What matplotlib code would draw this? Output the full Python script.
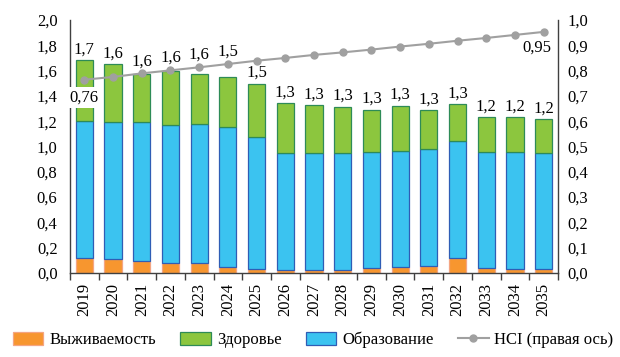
import matplotlib
matplotlib.use("Agg")
import matplotlib.pyplot as plt
from matplotlib.patches import Patch
from matplotlib.lines import Line2D
import numpy as np

years = ["2019", "2020", "2021", "2022", "2023", "2024", "2025", "2026", "2027",
         "2028", "2029", "2030", "2031", "2032", "2033", "2034", "2035"]
survival = [0.12, 0.11, 0.097, 0.081, 0.081, 0.05, 0.03, 0.025, 0.024,
            0.024, 0.04, 0.047, 0.055, 0.121, 0.04, 0.032, 0.032]
education_top = [1.204, 1.196, 1.19, 1.172, 1.178, 1.152, 1.073, 0.951, 0.946,
                 0.951, 0.959, 0.964, 0.98, 1.041, 0.959, 0.954, 0.951]
totals = [1.68, 1.65, 1.576, 1.597, 1.576, 1.552, 1.494, 1.34, 1.325,
          1.315, 1.289, 1.323, 1.286, 1.334, 1.231, 1.231, 1.215]
total_labels = ["1,7", "1,6", "1,6", "1,6", "1,6", "1,5", "1,5", "1,3", "1,3",
                "1,3", "1,3", "1,3", "1,3", "1,3", "1,2", "1,2", "1,2"]
hci = [0.764, 0.775, 0.789, 0.801, 0.813, 0.826, 0.839, 0.850, 0.862,
       0.872, 0.883, 0.895, 0.906, 0.918, 0.929, 0.941, 0.953]

education = [e - s for e, s in zip(education_top, survival)]
health = [t - e for t, e in zip(totals, education_top)]

plt.rcParams['font.family'] = ['Liberation Serif', 'DejaVu Serif']
FS = 12

c_or, c_or_e = "#F7962F", "#F4A582"
c_gr, c_gr_e = "#8CC63E", "#2E8B57"
c_bl, c_bl_e = "#3BC3F0", "#2F5DB5"
c_line = "#A0A0A0"
spine_c = "#404040"

fig = plt.figure(figsize=(6.2, 3.57), dpi=100)
ax = fig.add_axes([70/620, 1-273/357, (558-70)/620, (273-20)/357])
ax2 = ax.twinx()

x = np.arange(len(years))
w = 0.6
lw = 0.9
ax.bar(x, survival, w, color=c_or, edgecolor=c_or_e, linewidth=lw, zorder=2)
ax.bar(x, education, w, bottom=survival, color=c_bl, edgecolor=c_bl_e, linewidth=lw, zorder=2)
ax.bar(x, health, w, bottom=education_top, color=c_gr, edgecolor=c_gr_e, linewidth=lw, zorder=2)

ax.set_xlim(-0.5, len(years) - 0.5)
ax.set_ylim(0, 2.0)
ax2.set_ylim(0, 1.0)

ax.set_yticks(np.arange(0, 2.01, 0.2))
ax.set_yticklabels([f"{v:.1f}".replace(".", ",") for v in np.arange(0, 2.01, 0.2)], fontsize=FS)
ax2.set_yticks(np.arange(0, 1.001, 0.1))
ax2.set_yticklabels([f"{v:.1f}".replace(".", ",") for v in np.arange(0, 1.001, 0.1)], fontsize=FS)
ax.tick_params(axis='y', length=0, pad=9)
ax2.tick_params(axis='y', length=0, pad=7)

ax.set_xticks(x)
ax.set_xticklabels(years, rotation=90, fontsize=FS)
ax.tick_params(axis='x', which='major', length=0, pad=7)
ax.set_xticks(np.arange(-0.5, len(years), 1.0), minor=True)
ax.tick_params(axis='x', which='minor', length=5, color=spine_c, width=1)

for a in (ax, ax2):
    a.spines['top'].set_visible(False)
    for s in ('left', 'right', 'bottom'):
        a.spines[s].set_color(spine_c)
        a.spines[s].set_linewidth(1.0)
ax.spines['right'].set_visible(False)
ax2.spines['left'].set_visible(False)
ax2.spines['bottom'].set_visible(False)

ax2.plot(x, hci, color=c_line, linewidth=1.5, marker='o', markersize=5,
         markerfacecolor=c_line, markeredgecolor=c_line, zorder=3)

# Total labels (lifted above the HCI line when the line passes just above the bar)
for i, (t, lab, h) in enumerate(zip(totals, total_labels, hci)):
    ly = t
    if 0 <= 2 * h - t < 0.15:
        ly = 2 * h + 0.01
    ax2.annotate(lab, (x[i], ly / 2), xytext=(0, 5), textcoords='offset points',
                 ha='center', va='baseline', fontsize=FS, zorder=5)

ax2.annotate("0,76", (x[0], hci[0]), xytext=(0, -13), textcoords='offset points',
             ha='center', va='center', fontsize=FS, zorder=5,
             bbox=dict(boxstyle='square,pad=0.15', fc='white', ec='none'),
             annotation_clip=False)
ax2.annotate("0,95", (x[-1], hci[-1]), xytext=(-5, -11), textcoords='offset points',
             ha='center', va='center', fontsize=FS, zorder=5,
             bbox=dict(boxstyle='square,pad=0.1', fc='white', ec='none'))

handles = [Patch(facecolor=c_or, edgecolor=c_or_e, linewidth=lw),
           Patch(facecolor=c_gr, edgecolor=c_gr_e, linewidth=lw),
           Patch(facecolor=c_bl, edgecolor=c_bl_e, linewidth=lw),
           Line2D([0], [0], color=c_line, linewidth=1.5, marker='o', markersize=5,
                  markerfacecolor=c_line, markeredgecolor=c_line)]
labels = ["Выживаемость", "Здоровье", "Образование", "HCI (правая ось)"]
fig.legend(handles, labels, loc='center', bbox_to_anchor=(0.505, 1 - 340/357), ncol=4,
           frameon=False, fontsize=FS, handlelength=1.85, handleheight=0.75,
           columnspacing=1.45, handletextpad=0.35, borderpad=0.1)

fig.savefig("out.png", dpi=100)
